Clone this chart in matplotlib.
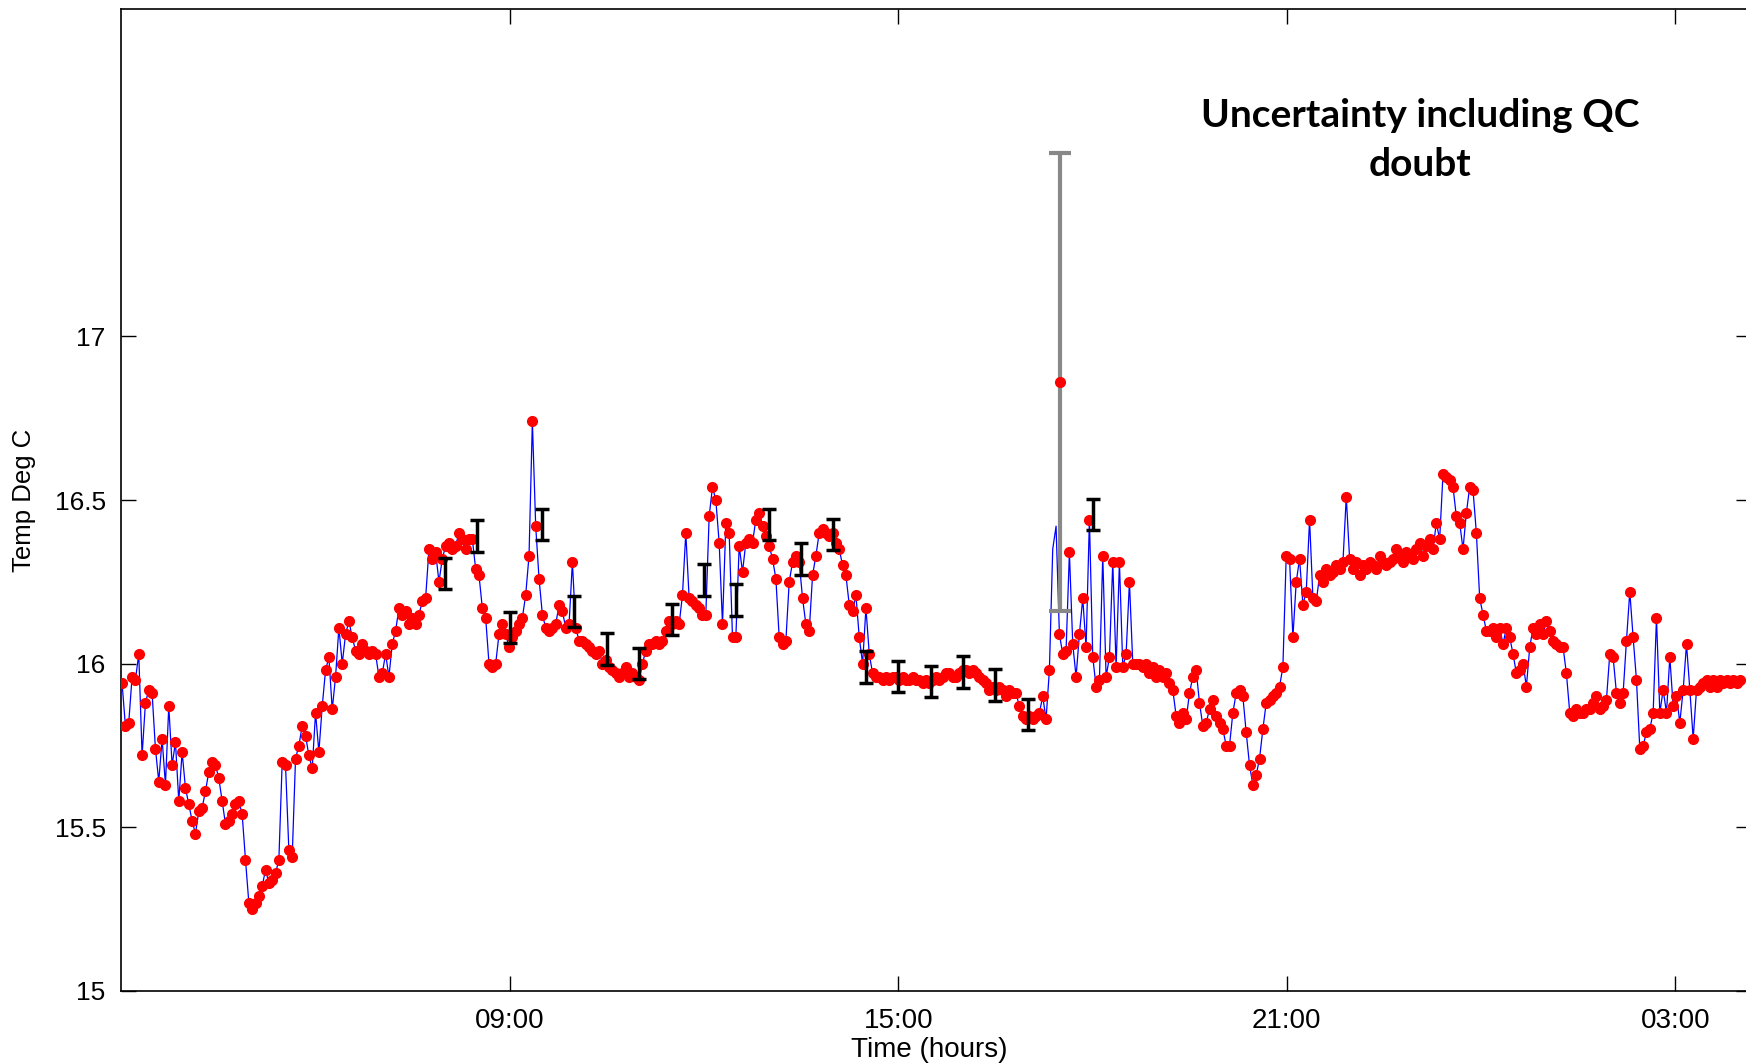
import numpy as np
import matplotlib.pyplot as plt
from matplotlib.ticker import FuncFormatter

# Sea temperature record, first reading 03:01, one reading about every 3.09 minutes
start_hour = 3 + 1 / 60
step_min = 3.09

# readings split by part of the day (deg C)
temps_early = [
    15.94, 15.81, 15.82, 15.96, 15.95, 16.03, 15.72, 15.88, 15.92, 15.91,
    15.74, 15.64, 15.77, 15.63, 15.87, 15.69, 15.76, 15.58, 15.73, 15.62,
    15.57, 15.52, 15.48, 15.55, 15.56, 15.61, 15.67, 15.70, 15.69, 15.65,
    15.58, 15.51, 15.52, 15.54, 15.57, 15.58, 15.54, 15.40, 15.27, 15.25,
    15.27, 15.29, 15.32, 15.37, 15.33, 15.34, 15.36, 15.40, 15.70, 15.69,
    15.43,
]
temps_day = [
    15.41, 15.71, 15.75, 15.81, 15.78, 15.72, 15.68, 15.85, 15.73, 15.87,
    15.98, 16.02, 15.86, 15.96, 16.11, 16.00, 16.09, 16.13, 16.08, 16.04,
    16.03, 16.06, 16.04, 16.03, 16.04, 16.03, 15.96, 15.97, 16.03, 15.96,
    16.06, 16.10, 16.17, 16.15, 16.16, 16.12, 16.14, 16.12, 16.15, 16.19,
    16.20, 16.35, 16.32, 16.34, 16.25, 16.32, 16.36, 16.37, 16.35, 16.36,
    16.40, 16.38, 16.35, 16.38, 16.38, 16.29, 16.27, 16.17, 16.14, 16.00,
    15.99, 16.00, 16.09, 16.12, 16.09, 16.05, 16.08, 16.10, 16.12, 16.14,
    16.21, 16.33, 16.74, 16.42, 16.26, 16.15, 16.11, 16.10, 16.11, 16.12,
    16.18, 16.16, 16.11, 16.12, 16.31, 16.11, 16.07, 16.07, 16.06, 16.05,
    16.04, 16.03, 16.04, 16.00, 16.01, 15.99, 15.98, 15.97, 15.96, 15.97,
    15.99, 15.96, 15.97, 15.96, 15.95, 16.00, 16.04, 16.06, 16.06, 16.07,
    16.06, 16.07, 16.10, 16.13, 16.12, 16.13, 16.12, 16.21, 16.40, 16.20,
    16.19, 16.18, 16.17, 16.15, 16.15, 16.45, 16.54, 16.50, 16.37, 16.12,
    16.43, 16.40, 16.08, 16.08, 16.36, 16.28, 16.37, 16.38, 16.37, 16.44,
    16.46, 16.42, 16.39, 16.36, 16.32, 16.26, 16.08, 16.06, 16.07, 16.25,
    16.31, 16.33, 16.31, 16.20, 16.12, 16.10, 16.27, 16.33, 16.40, 16.41,
    16.40, 16.39, 16.40, 16.37, 16.35, 16.30, 16.27, 16.18, 16.16, 16.21,
    16.08, 16.00, 16.17, 16.03, 15.97, 15.96,
]
temps_afternoon = [
    15.96, 15.95, 15.96, 15.95, 15.96, 15.96, 15.95, 15.96, 15.95, 15.95,
    15.96, 15.95, 15.95, 15.94, 15.95, 15.94, 15.95, 15.96, 15.95, 15.96,
    15.97, 15.97, 15.96, 15.96, 15.97, 15.98, 15.98, 15.97, 15.98, 15.97,
    15.96, 15.95, 15.94, 15.92, 15.93, 15.92, 15.93, 15.92, 15.90, 15.92,
    15.91, 15.91, 15.87, 15.84, 15.83, 15.84, 15.83, 15.84, 15.85, 15.90,
    15.83, 15.98, 16.35, 16.42, 16.09, 16.03, 16.04, 16.34, 16.06, 15.96,
    16.09, 16.20, 16.05, 16.44, 16.02, 15.93, 15.95, 16.33, 15.96, 16.02,
    16.31, 15.99, 16.31, 15.99, 16.03, 16.25, 16.00, 16.00,
]
temps_evening = [
    16.00, 15.99, 16.00, 15.97, 15.99, 15.96, 15.98, 15.96, 15.97, 15.94,
    15.92, 15.84, 15.82, 15.85, 15.83, 15.91, 15.96, 15.98, 15.88, 15.81,
    15.82, 15.86, 15.89, 15.84, 15.82, 15.80, 15.75, 15.75, 15.85, 15.91,
    15.92, 15.90, 15.79, 15.69, 15.63, 15.66, 15.71, 15.80, 15.88, 15.89,
    15.90, 15.91, 15.93, 15.99, 16.33,
]
temps_night = [
    16.32, 16.08, 16.25, 16.32, 16.18, 16.22, 16.44, 16.20, 16.19, 16.27,
    16.25, 16.29, 16.27, 16.28, 16.30, 16.29, 16.31, 16.51, 16.32, 16.29,
    16.31, 16.27, 16.30, 16.29, 16.31, 16.30, 16.29, 16.33, 16.31, 16.30,
    16.31, 16.32, 16.35, 16.33, 16.31, 16.34, 16.33, 16.32, 16.35, 16.37,
    16.33, 16.36, 16.38, 16.35, 16.43, 16.38, 16.58, 16.57, 16.56, 16.54,
    16.45, 16.43, 16.35, 16.46, 16.54, 16.53, 16.40, 16.20, 16.15, 16.10,
    16.10, 16.11, 16.08, 16.11, 16.06, 16.11, 16.08, 16.03, 15.97, 15.98,
    16.00, 15.93, 16.05, 16.11, 16.09, 16.12, 16.09, 16.13, 16.10, 16.07,
    16.06, 16.05, 16.05, 15.97, 15.85, 15.84, 15.86, 15.85, 15.85, 15.86,
    15.86, 15.88, 15.90, 15.86, 15.87, 15.89, 16.03, 16.02, 15.91, 15.88,
    15.91, 16.07, 16.22, 16.08, 15.95, 15.74, 15.75, 15.79, 15.80, 15.85,
    16.14, 15.85, 15.92, 15.85, 16.02, 15.87, 15.90, 15.82, 15.92, 16.06,
    15.92, 15.77, 15.92, 15.93, 15.94, 15.95, 15.93, 15.95, 15.93, 15.95,
    15.94, 15.95, 15.94, 15.95, 15.94, 15.95,
]

# readings flagged by QC (no marker drawn)
qc_spike_idx = [279, 280]

# half-hourly uncertainty bars
bar_hours = [8.0, 8.5, 9.0, 9.5, 10.0, 10.5, 11.0, 11.5, 12.0, 12.5,
             13.0, 13.5, 14.0, 14.5, 15.0, 15.5, 16.0, 16.5, 17.0, 18.0]
bar_temps = [16.275, 16.39, 16.11, 16.425, 16.16, 16.045, 16.00, 16.135, 16.255, 16.195,
             16.425, 16.32, 16.395, 15.99, 15.96, 15.945, 15.975, 15.935, 15.845, 16.455]
bar_half = 0.048

# the QC doubt point
qc_hour = 17.5
qc_temp = 16.86
qc_half = 0.70

temps = np.array(temps_early + temps_day + temps_afternoon + temps_evening + temps_night)
hours = start_hour + np.arange(len(temps)) * step_min / 60

W, H = 1746, 1063
fig = plt.figure(figsize=(W / 100, H / 100), dpi=100)
ax = fig.add_axes([121 / W, 1 - 991 / H, (1751 - 121) / W, (991 - 9) / H])

ax.plot(hours, temps, color='#0000ff', lw=0.9, zorder=2)
keep = np.ones(len(temps), dtype=bool)
keep[qc_spike_idx] = False
ax.plot(hours[keep], temps[keep], 'o', color='#ff0000', ms=7, mec='#ff0000', zorder=3)

ax.errorbar(bar_hours, bar_temps, yerr=bar_half, fmt='none', ecolor='black',
            elinewidth=2.5, capsize=5, capthick=2.5, zorder=4)
ax.errorbar([qc_hour], [qc_temp], yerr=qc_half, fmt='none', ecolor='#888888',
            elinewidth=3, capsize=8, capthick=3, zorder=4)
ax.plot([qc_hour], [qc_temp], 'o', color='#ff0000', ms=7, zorder=5)

ax.set_xlim(3, 3 + (1751 - 121) / 64.77)
ax.set_ylim(15, 18)
ax.set_yticks([15, 15.5, 16, 16.5, 17])
ax.yaxis.set_major_formatter(FuncFormatter(lambda v, p: f'{v:g}'))
ax.set_xticks([9, 15, 21, 27])
ax.xaxis.set_major_formatter(FuncFormatter(lambda v, p: f'{int(v) % 24:02d}:00'))

ax.tick_params(direction='in', top=True, right=True, length=11, width=1,
               labelsize=19, colors='black')
ax.tick_params(axis='y', pad=11)
ax.tick_params(axis='x', pad=12, labelsize=20)
for lab in ax.get_xticklabels() + ax.get_yticklabels():
    lab.set_family('Liberation Sans')
for s in ax.spines.values():
    s.set_linewidth(1.2)

ax.set_xlabel('Time (hours)', fontsize=20, family='Liberation Sans')
ax.set_ylabel('Temp Deg C', fontsize=18.5, family='Liberation Sans')
ax.xaxis.set_label_coords(0.496, -0.047)
ax.yaxis.set_label_coords(-0.052, 0.5)

fig.text(1420 / W, 1 - 140 / H, 'Uncertainty including QC\ndoubt', ha='center', va='center',
         fontsize=28, fontweight='bold', family='Lato', linespacing=1.45)

fig.savefig('out.png', dpi=100)
